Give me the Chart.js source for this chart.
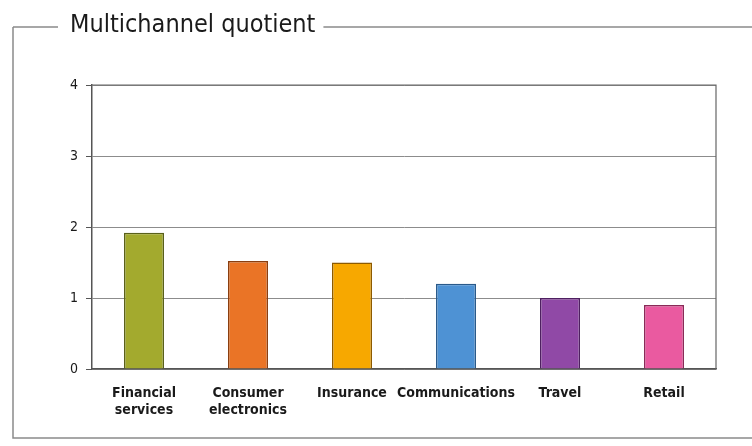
<!DOCTYPE html>
<html>
<head>
<meta charset="utf-8">
<script src="https://cdn.jsdelivr.net/npm/chart.js@4/dist/chart.umd.min.js"></script>
<style>
  html, body { margin: 0; padding: 0; background: #fff; }
  #wrap { width: 752px; height: 446px; }
</style>
</head>
<body>
<div id="wrap"><canvas id="chart" width="752" height="446"></canvas></div>
<script>
const categories = [['Financial', 'services'], ['Consumer', 'electronics'], 'Insurance', 'Communications', 'Travel', 'Retail'];
const quotient = [1.92, 1.52, 1.5, 1.2, 1.0, 0.9];
const yTicks = [0, 1, 2, 3, 4];
const barColors = ['#a3aa2e', '#ea7426', '#f7a800', '#4e92d4', '#9049a6', '#ea5aa0'];
const barEdges = ['#59601a', '#8a3e10', '#8d5a00', '#2a5a8a', '#4e2060', '#8a2a58'];

const FONT = '"Liberation Sans Narrow", "DejaVu Sans Condensed", Arial, sans-serif';

// frame around the chart with the heading set into the top rule
const framePlugin = {
  id: 'frame',
  beforeDraw(chart) {
    const ctx = chart.ctx;
    ctx.save();
    ctx.fillStyle = '#fff';
    ctx.fillRect(0, 0, chart.width, chart.height);
    ctx.font = '25px ' + FONT;
    ctx.fillStyle = '#1a1a1a';
    ctx.textBaseline = 'middle';
    const title = 'Multichannel quotient';
    const tx = 70, ty = 25;
    ctx.fillText(title, tx, ty);
    const tw = ctx.measureText(title).width;
    ctx.strokeStyle = '#8a8a8a';
    ctx.lineWidth = 1.5;
    ctx.beginPath();
    ctx.moveTo(13, 27); ctx.lineTo(tx - 12, 27);
    ctx.moveTo(tx + tw + 8, 27); ctx.lineTo(chart.width, 27);
    ctx.moveTo(13, 27); ctx.lineTo(13, 438);
    ctx.lineTo(chart.width, 438);
    ctx.stroke();
    ctx.restore();
  },
  afterDatasetsDraw(chart) {
    // top and right edges of the plot box
    const a = chart.chartArea, ctx = chart.ctx;
    ctx.save();
    ctx.strokeStyle = '#666';
    ctx.lineWidth = 1.2;
    ctx.beginPath();
    ctx.moveTo(a.left, a.top); ctx.lineTo(a.right, a.top); ctx.lineTo(a.right, a.bottom);
    ctx.stroke();
    ctx.restore();
  }
};

new Chart(document.getElementById('chart'), {
  type: 'bar',
  data: {
    labels: categories,
    datasets: [{
      data: quotient,
      backgroundColor: barColors,
      borderColor: barEdges,
      borderWidth: 1.5,
      barPercentage: 0.385,
      categoryPercentage: 1.0
    }]
  },
  options: {
    responsive: false,
    animation: false,
    layout: { padding: { left: 40, top: 85, right: 36, bottom: 27 } },
    plugins: { legend: { display: false }, tooltip: { enabled: false } },
    scales: {
      x: {
        grid: { display: false, drawTicks: false },
        border: { color: '#555', width: 1.5 },
        ticks: {
          color: '#1a1a1a',
          padding: 16,
          maxRotation: 0,
          autoSkip: false,
          font: { family: FONT, size: 14, weight: 'bold', lineHeight: 1.2 }
        },
        afterFit(scale) { scale.height = 50; }
      },
      y: {
        min: 0,
        max: 4,
        afterBuildTicks(scale) { scale.ticks = yTicks.map(v => ({ value: v })); },
        grid: { color: '#8c8c8c', lineWidth: 1, tickLength: 6, tickColor: '#555' },
        border: { color: '#555', width: 1.5 },
        ticks: {
          color: '#1a1a1a',
          padding: 8,
          font: { family: FONT, size: 14 }
        },
        afterFit(scale) { scale.width = 52; }
      }
    }
  },
  plugins: [framePlugin]
});
</script>
</body>
</html>
